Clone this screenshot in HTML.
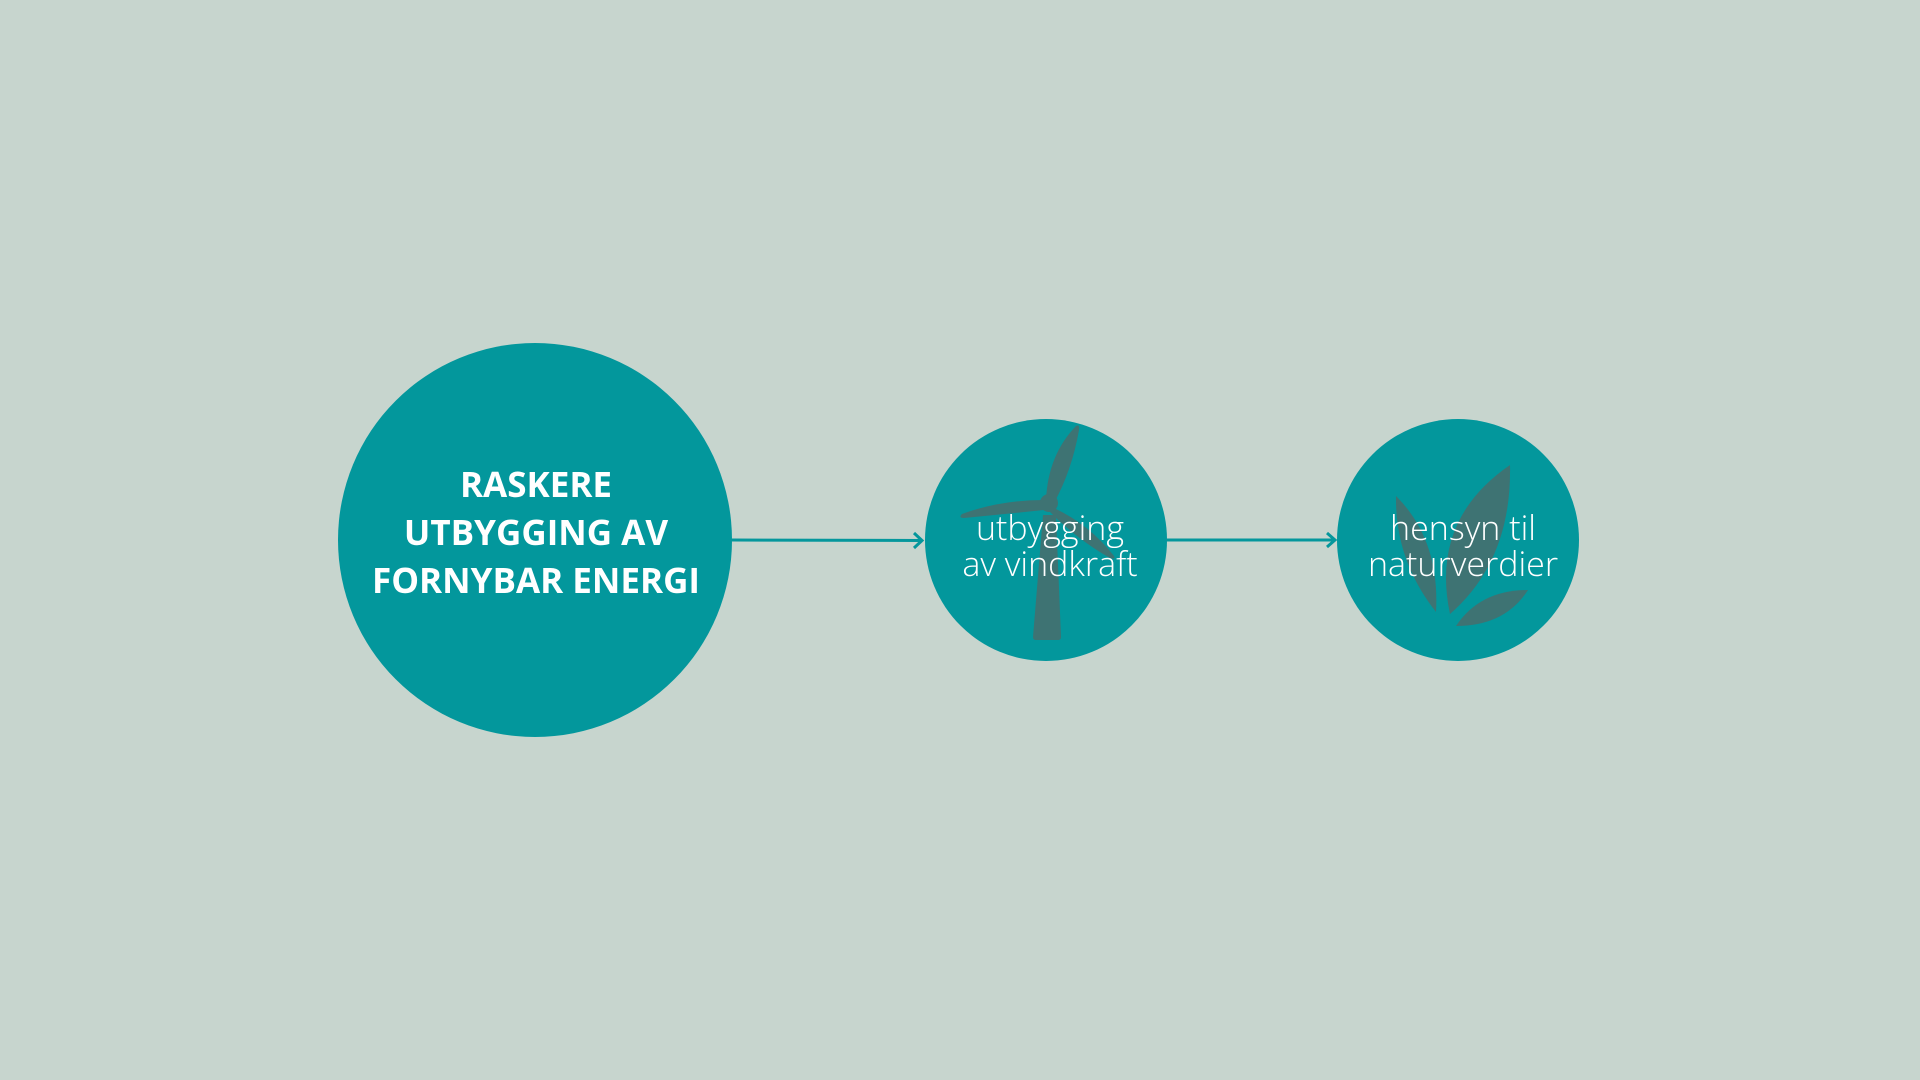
<!DOCTYPE html>
<html><head><meta charset="utf-8"><style>
html,body{margin:0;padding:0;background:#c7d5ce;width:1920px;height:1080px;overflow:hidden}
svg{display:block}
</style></head><body>
<svg width="1920" height="1080" viewBox="0 0 1920 1080">
<rect width="1920" height="1080" fill="#c7d5ce"/>
<g stroke="#05979c" stroke-width="3" fill="none">
<line x1="732" y1="540" x2="922" y2="540.5"/><polyline points="914,533 922,540.5 914,548"/></g>
<g stroke="#05979c" stroke-width="3" fill="none">
<line x1="1167" y1="540" x2="1335" y2="540"/><polyline points="1327,533 1335,540 1327,547"/></g>
<circle cx="535" cy="540" r="197" fill="#03979c"/>
<g fill="#fff" font-family="'Open Sans','Liberation Sans',sans-serif" font-weight="bold" font-size="35" text-anchor="middle">
<text x="536" y="497">RASKERE</text><text x="536" y="545">UTBYGGING AV</text><text x="536" y="593">FORNYBAR ENERGI</text></g>
<circle cx="1046" cy="540" r="121" fill="#03979c"/>
<g fill="#3e7373">
<path d="M1043,515 L1056,515 L1061,637 Q1061,640 1058,640 L1036,640 Q1033,640 1033,637 Z"/>
<path d="M1046,500 Q1048,455 1076,426 Q1080,424 1079,430 Q1072,470 1054,503 Z"/>
<path d="M1044,500 Q1000,500 962,514 Q958,518 964,518 Q1005,514 1044,510 Z"/>
<path d="M1054,508 Q1090,525 1114,556 Q1116,560 1110,558 Q1078,540 1050,512 Z"/>
<circle cx="1049" cy="503" r="9"/></g>
<g fill="#fff" font-family="'Open Sans','Liberation Sans',sans-serif" font-weight="300" font-size="34" text-anchor="middle">
<text x="1050" y="540">utbygging</text><text x="1050" y="576">av vindkraft</text></g>
<circle cx="1458" cy="540" r="121" fill="#03979c"/>
<g fill="#3e7373">
<path d="M1396,496 Q1440,540 1436,612 Q1395,560 1396,496 Z"/>
<path d="M1510,465 Q1512,560 1450,614 Q1430,520 1510,465 Z"/>
<path d="M1456,626 Q1480,590 1528,590 Q1505,626 1456,626 Z"/></g>
<g fill="#fff" font-family="'Open Sans','Liberation Sans',sans-serif" font-weight="300" font-size="34" text-anchor="middle">
<text x="1463" y="540">hensyn til</text><text x="1463" y="576">naturverdier</text></g>
</svg>
</body></html>
